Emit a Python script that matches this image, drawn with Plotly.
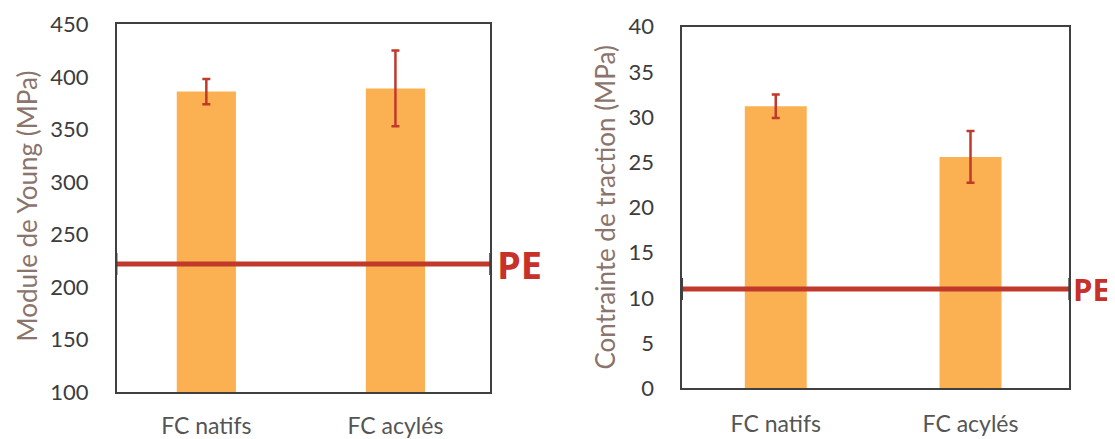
import plotly.graph_objects as go

categories = ["FC natifs", "FC acylés"]

young_values = [386, 389]
young_errors = [12, 36]
young_pe = 222
young_ticks = [100, 150, 200, 250, 300, 350, 400, 450]

traction_values = [31.2, 25.6]
traction_errors = [1.3, 2.85]
traction_pe = 11
traction_ticks = [0, 5, 10, 15, 20, 25, 30, 35, 40]

pe_label = "PE"
young_title = "Module de Young (MPa)"
traction_title = "Contrainte de traction (MPa)"

BAR = "#FBB152"
RED = "#C0392B"
FRAME = "#404040"
TICKC = "#3c3c3c"
XTICKC = "#555555"
TITLEC = "#8a746c"
FONT = "Lato"

W, H = 1107, 431  # page body adds an 8px margin

fig = go.Figure()

fig.add_trace(go.Bar(
    x=categories, y=young_values, width=0.313,
    marker=dict(color=BAR, line=dict(width=0)),
    error_y=dict(type="data", array=young_errors, color=RED, thickness=2.5, width=4),
    xaxis="x", yaxis="y", showlegend=False,
))
fig.add_trace(go.Bar(
    x=categories, y=traction_values, width=0.318,
    marker=dict(color=BAR, line=dict(width=0)),
    error_y=dict(type="data", array=traction_errors, color=RED, thickness=2.5, width=4),
    xaxis="x2", yaxis="y2", showlegend=False,
))

axis_common = dict(showline=True, linecolor=FRAME, linewidth=1.5, mirror=True,
                   showgrid=False, zeroline=False, ticks="", automargin=False)

fig.update_layout(
    width=W, height=H,
    margin=dict(l=0, r=0, t=0, b=0, autoexpand=False),
    paper_bgcolor="white", plot_bgcolor="white",
    font=dict(family=FONT, size=22, color=TICKC),
    xaxis=dict(domain=[0.0982, 0.4354], range=[-0.474, 1.5], anchor="y",
               tickfont=dict(size=23, color=XTICKC), ticklabelstandoff=12, **axis_common),
    yaxis=dict(domain=[0.1084, 0.9622], range=[100, 450], tickvals=young_ticks,
               anchor="x", tickfont=dict(size=22, color=TICKC), ticklabelstandoff=22, **axis_common),
    xaxis2=dict(domain=[0.6091, 0.9585], range=[-0.48, 1.506], anchor="y2",
                tickfont=dict(size=23, color=XTICKC), ticklabelstandoff=14, **axis_common),
    yaxis2=dict(domain=[0.1176, 0.9566], range=[0, 40], tickvals=traction_ticks,
                anchor="x2", tickfont=dict(size=22, color=TICKC), ticklabelstandoff=22, **axis_common),
)

for xr, yr, pe in [("x domain", "y", young_pe), ("x2 domain", "y2", traction_pe)]:
    fig.add_shape(type="line", xref=xr, yref=yr, x0=0, x1=1, y0=pe, y1=pe,
                  line=dict(color=RED, width=5), layer="above")
    for xe in (0, 1):
        fig.add_shape(type="line", xref=xr, yref=yr, ysizemode="pixel", yanchor=pe,
                      x0=xe, x1=xe, y0=-11, y1=11,
                      line=dict(color=FRAME, width=1.5), layer="above")

fig.add_annotation(xref="x domain", yref="y", x=1, y=young_pe, xanchor="left", yanchor="middle",
                   xshift=5, text=pe_label, showarrow=False,
                   font=dict(family="Open Sans", size=38, color="#C8302A", weight="bold"))
fig.add_annotation(xref="x2 domain", yref="y2", x=1, y=traction_pe, xanchor="left", yanchor="middle",
                   xshift=2, text=pe_label, showarrow=False,
                   font=dict(family="Open Sans", size=31, color="#C8302A", weight="bold"))

fig.add_annotation(xref="paper", yref="paper", x=19 / W, y=0.5394, textangle=-90,
                   text=young_title, showarrow=False, xanchor="center", yanchor="middle",
                   font=dict(family=FONT, size=26, color=TITLEC))
fig.add_annotation(xref="paper", yref="paper", x=597 / W, y=0.5371, textangle=-90,
                   text=traction_title, showarrow=False, xanchor="center", yanchor="middle",
                   font=dict(family=FONT, size=26, color=TITLEC))

fig.write_html("out.html")
